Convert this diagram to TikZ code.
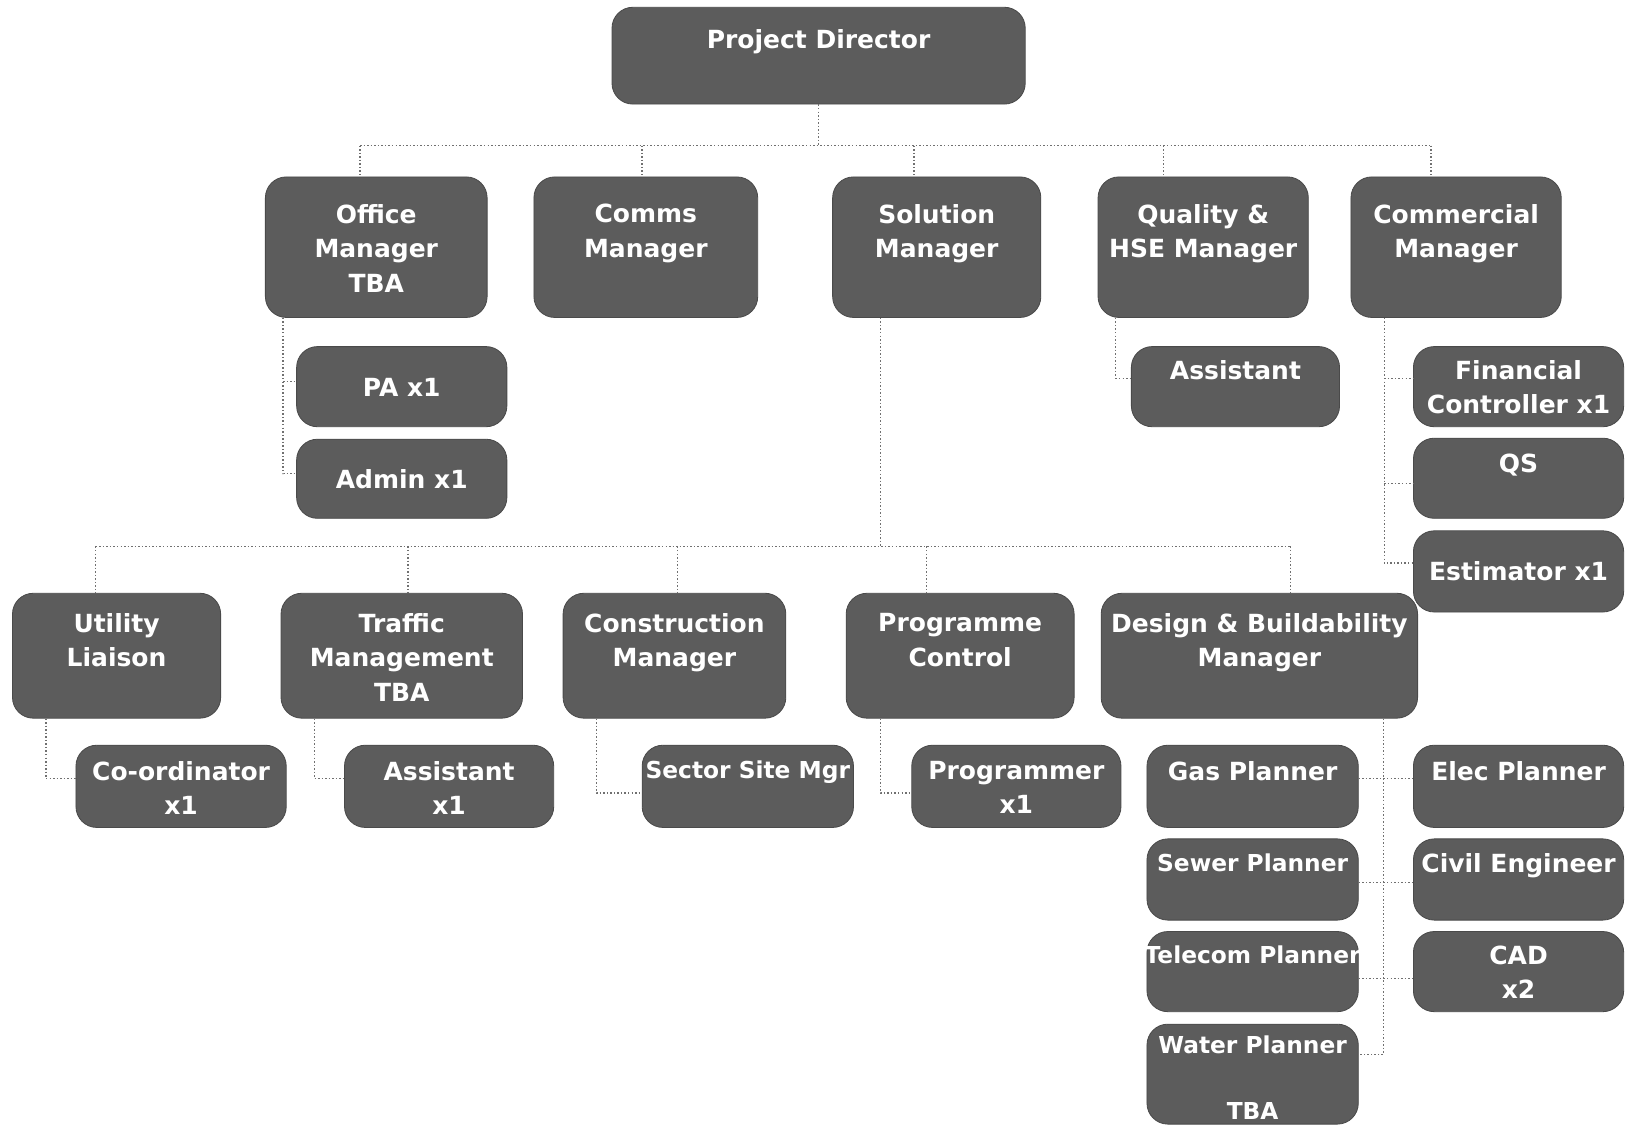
\documentclass[tikz,border=0pt]{standalone}
\usepackage{fontspec}
\setmainfont{DejaVu Sans}
\usetikzlibrary{calc}
\definecolor{boxgray}{HTML}{5C5C5C}
\definecolor{boxedge}{HTML}{4A4A4A}
\definecolor{linkgray}{HTML}{707070}
\tikzset{
  orgbox/.style={rectangle, rounded corners=10pt, fill=boxgray, draw=boxedge, line width=0.4pt, inner sep=0pt},
  orgtext/.style={text=white, font=\bfseries\fontsize{12}{16.5}\selectfont, align=center, anchor=north, inner sep=0pt},
  smalltext/.style={font=\bfseries\fontsize{11.2}{16.5}\selectfont},
  link/.style={densely dotted, draw=linkgray, line width=0.7pt},
}
% \orgnode[text style]{name}{left}{top}{right}{bottom}{text top}{text}
\newcommand\orgnode[8][]{%
  \node[orgbox, minimum width={(#5-#3)*0.5pt}, minimum height={(#6-#4)*0.5pt}] (#2) at ({(#3+#5)/2},{(#4+#6)/2}) {};
  \node[orgtext,#1] (#2-t) at ({(#3+#5)/2},#7) {#8};
}
\begin{document}
\begin{tikzpicture}[x=0.5pt,y=-0.5pt]
\path[fill=white, use as bounding box] (0,0) rectangle (1568,1085);

% top level and department heads
\orgnode{pd}{588}{7}{985}{100}{28}{Project Director}
\orgnode{office}{255}{170}{468}{305}{196}{Office\\Manager\\TBA}
\orgnode{comms}{513}{170}{728}{305}{196}{Comms\\Manager}
\orgnode{solution}{800}{170}{1000}{305}{196}{Solution\\Manager}
\orgnode{quality}{1055}{170}{1257}{305}{196}{Quality \&\\HSE Manager}
\orgnode{commercial}{1298}{170}{1500}{305}{196}{Commercial\\Manager}

% office, quality and commercial staff
\orgnode{pa}{285}{333}{487}{410}{363}{PA x1}
\orgnode{admin}{285}{422}{487}{498}{451}{Admin x1}
\orgnode{qassist}{1087}{333}{1287}{410}{346}{Assistant}
\orgnode{fin}{1358}{333}{1560}{410}{346}{Financial\\Controller x1}
\orgnode{qs}{1358}{421}{1560}{498}{436}{QS}
\orgnode{est}{1358}{510}{1560}{588}{539}{Estimator x1}

% solution teams
\orgnode{utility}{12}{570}{212}{690}{589}{Utility\\Liaison}
\orgnode{traffic}{270}{570}{502}{690}{589}{Traffic\\Management\\TBA}
\orgnode{constr}{541}{570}{755}{690}{589}{Construction\\Manager}
\orgnode{progctl}{813}{570}{1032}{690}{589}{Programme\\Control}
\orgnode{design}{1058}{570}{1362}{690}{589}{Design \& Buildability\\Manager}

% team members
\orgnode{coord}{73}{716}{275}{795}{731}{Co-ordinator\\x1}
\orgnode{tmassist}{331}{716}{532}{795}{731}{Assistant\\x1}
\orgnode[smalltext]{sector}{617}{716}{820}{795}{731}{Sector Site Mgr}
\orgnode{programmer}{876}{716}{1077}{795}{731}{Programmer\\x1}
\orgnode{gas}{1102}{716}{1305}{795}{731}{Gas Planner}
\orgnode[smalltext]{sewer}{1102}{806}{1305}{884}{820}{Sewer Planner}
\orgnode[smalltext]{telecom}{1102}{895}{1305}{972}{908}{Telecom Planner}
\orgnode[smalltext]{water}{1102}{984}{1305}{1080}{995}{Water Planner\\[15pt]TBA}
\orgnode{elec}{1358}{716}{1560}{795}{731}{Elec Planner}
\orgnode{civil}{1358}{806}{1560}{884}{820}{Civil Engineer}
\orgnode{cad}{1358}{895}{1560}{972}{908}{CAD\\x2}

% connector bus under the director
\coordinate (d-office) at (346,140);
\coordinate (d-comms) at (617,140);
\coordinate (d-sol) at (878,140);
\coordinate (d-qual) at (1118,140);
\coordinate (d-comm) at (1375,140);
\draw[link] (pd.south) -- (pd.south |- d-office);
\draw[link] (d-office) -- (d-comm);
\foreach \d/\b in {office/office, comms/comms, sol/solution, qual/quality, comm/commercial}
  \draw[link] (d-\d) -- (d-\d |- \b.north);

% entry points on the sides of the staff boxes
\coordinate (pa-in) at ([yshift=2.5pt]pa.west);
\coordinate (admin-in) at ([yshift=2.5pt]admin.west);
\coordinate (qassist-in) at ([yshift=4pt]qassist.west);
\coordinate (fin-in) at ([yshift=4pt]fin.west);
\coordinate (qs-in) at ([yshift=-2.5pt]qs.west);
\coordinate (est-in) at ([yshift=4pt]est.west);

% side branches of the department heads
\coordinate (v-office) at (272,0);
\coordinate (v-qual) at (1072,0);
\coordinate (v-comm) at (1330,0);
\draw[link] (office.south -| v-office) |- (admin-in);
\draw[link] (v-office |- pa-in) -- (pa-in);
\draw[link] (quality.south -| v-qual) |- (qassist-in);
\draw[link] (commercial.south -| v-comm) |- (est-in);
\draw[link] (v-comm |- fin-in) -- (fin-in);
\draw[link] (v-comm |- qs-in) -- (qs-in);

% bus under the solution manager
\coordinate (v-sol) at (846,0);
\coordinate (d2-util) at (92,525);
\coordinate (d2-traf) at (392,525);
\coordinate (d2-cons) at (651,525);
\coordinate (d2-prog) at (890,525);
\coordinate (d2-des) at (1240,525);
\draw[link] (solution.south -| v-sol) -- (v-sol |- d2-util);
\draw[link] (d2-util) -- (d2-des);
\foreach \d/\b in {util/utility, traf/traffic, cons/constr, prog/progctl, des/design}
  \draw[link] (d2-\d) -- (d2-\d |- \b.north);

% team member branches
\coordinate (coord-in) at ([yshift=3.75pt]coord.west);
\coordinate (tmassist-in) at ([yshift=3.75pt]tmassist.west);
\coordinate (sector-in) at ([yshift=-3.25pt]sector.west);
\coordinate (programmer-in) at ([yshift=-3.25pt]programmer.west);
\coordinate (water-in) at ([yshift=9.5pt]water.east);
\coordinate (v-util) at (44,0);
\coordinate (v-traf) at (302,0);
\coordinate (v-cons) at (573,0);
\coordinate (v-prog) at (846,0);
\coordinate (v-des) at (1329,0);
\draw[link] (utility.south -| v-util) |- (coord-in);
\draw[link] (traffic.south -| v-traf) |- (tmassist-in);
\draw[link] (constr.south -| v-cons) |- (sector-in);
\draw[link] (progctl.south -| v-prog) |- (programmer-in);
\draw[link] (design.south -| v-des) |- (water-in);
\draw[link] ([yshift=3.75pt]gas.east) -- ([yshift=3.75pt]elec.west);
\draw[link] ([yshift=-1.5pt]sewer.east) -- ([yshift=-1.5pt]civil.west);
\draw[link] ([yshift=-3.25pt]telecom.east) -- ([yshift=-3.25pt]cad.west);
\end{tikzpicture}
\end{document}
